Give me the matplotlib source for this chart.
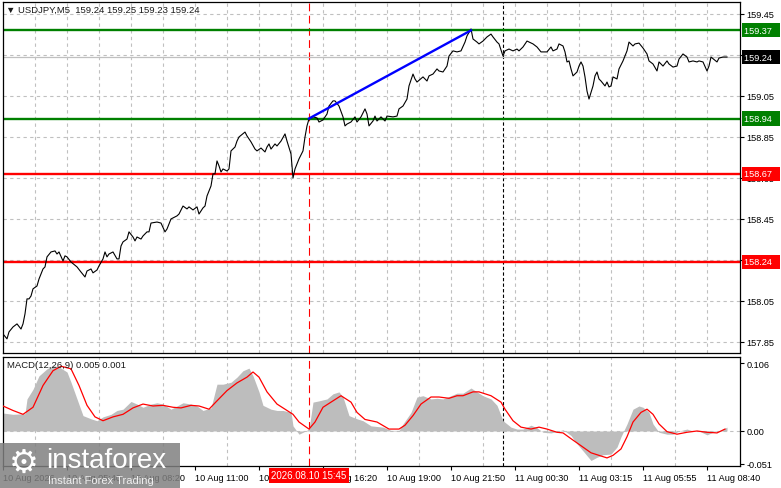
import matplotlib
matplotlib.use("Agg")
import matplotlib.pyplot as plt
import matplotlib.transforms as mtransforms
from matplotlib.patches import Rectangle
import numpy as np

plt.rcParams["font.family"] = ["Liberation Sans", "DejaVu Sans"]

# ---- USDJPY M5 close line (bar index counted from left edge of chart) ----
bars = [0, 2, 3, 5, 7, 9, 10, 11, 12, 13, 14, 15, 17, 18, 19, 20, 21, 22, 24, 26,
        27, 28, 30, 31, 32, 34, 37, 39, 41, 42, 44, 45, 47, 48, 50, 51, 52, 53, 55, 57,
        58, 59, 60, 62, 63, 65, 66, 67, 69, 70, 72, 73, 74, 77, 79, 81, 82, 84, 86, 87,
        88, 90, 92, 93, 95, 97, 98, 100, 101, 102, 104, 105, 106, 107, 108, 109, 110, 112, 113, 114,
        116, 117, 118, 121, 122, 124, 126, 127, 129, 131, 132, 133, 134, 136, 137, 139, 141, 142, 144, 145,
        146, 148, 150, 151, 152, 153, 155, 157, 158, 160, 162, 163, 165, 166, 168, 170, 171, 172, 174, 176,
        177, 179, 181, 182, 183, 185, 186, 187, 189, 191, 192, 195, 197, 198, 200, 202, 203, 205, 206, 207,
        210, 212, 213, 215, 217, 218, 220, 222, 223, 225, 227, 229, 231, 232, 234, 235, 237, 238, 240, 242,
        244, 245, 247, 248, 250, 251, 253, 255, 257, 258, 260, 262, 265, 267, 269, 272, 274, 275, 277, 278,
        280, 281, 282, 283, 284, 285, 287, 288, 289, 290, 291, 292, 293, 295, 296, 297, 298, 299, 301, 302,
        303, 304, 305, 307, 308, 310, 312, 313, 315, 316, 318, 320, 322, 323, 325, 327, 328, 330, 332, 333,
        335, 337, 338, 340, 342, 343, 345, 347, 348, 350, 352, 353, 354, 357, 358, 360, 362]
close = [157.889, 157.865, 157.899, 157.923, 157.938, 157.913, 157.938, 157.987, 158.060, 158.060,
         158.074, 158.109, 158.123, 158.157, 158.182, 158.206, 158.216, 158.265, 158.289, 158.294,
         158.279, 158.289, 158.245, 158.270, 158.265, 158.240, 158.216, 158.191, 158.167, 158.196,
         158.206, 158.187, 158.201, 158.221, 158.255, 158.289, 158.265, 158.279, 158.289, 158.255,
         158.255, 158.318, 158.338, 158.352, 158.387, 158.362, 158.343, 158.362, 158.352, 158.367,
         158.387, 158.387, 158.430, 158.435, 158.430, 158.387, 158.401, 158.450, 158.460, 158.465,
         158.474, 158.513, 158.499, 158.509, 158.494, 158.509, 158.474, 158.504, 158.513, 158.562,
         158.611, 158.670, 158.670, 158.733, 158.709, 158.679, 158.694, 158.684, 158.694, 158.782,
         158.801, 158.830, 158.850, 158.874, 158.855, 158.826, 158.791, 158.782, 158.796, 158.777,
         158.801, 158.816, 158.791, 158.816, 158.806, 158.830, 158.865, 158.830, 158.767, 158.650,
         158.694, 158.743, 158.782, 158.850, 158.904, 158.938, 158.948, 158.943, 158.923, 158.933,
         158.962, 159.001, 159.026, 159.026, 159.001, 158.948, 158.904, 158.913, 158.923, 158.948,
         158.923, 158.948, 158.987, 158.962, 158.904, 158.928, 158.952, 158.928, 158.948, 158.928,
         158.952, 158.948, 158.952, 158.987, 159.001, 159.035, 159.099, 159.157, 159.133, 159.118,
         159.143, 159.123, 159.148, 159.157, 159.182, 159.172, 159.167, 159.196, 159.245, 159.270,
         159.265, 159.270, 159.313, 159.343, 159.377, 159.328, 159.313, 159.304, 159.318, 159.338,
         159.352, 159.338, 159.313, 159.304, 159.245, 159.270, 159.279, 159.270, 159.279, 159.270,
         159.289, 159.318, 159.304, 159.289, 159.265, 159.265, 159.289, 159.270, 159.279, 159.304,
         159.294, 159.265, 159.216, 159.221, 159.182, 159.148, 159.167, 159.196, 159.216, 159.196,
         159.143, 159.074, 159.035, 159.099, 159.148, 159.167, 159.133, 159.123, 159.099, 159.118,
         159.094, 159.099, 159.143, 159.133, 159.182, 159.221, 159.270, 159.313, 159.294, 159.304,
         159.308, 159.284, 159.255, 159.221, 159.206, 159.172, 159.216, 159.196, 159.221, 159.206,
         159.191, 159.196, 159.230, 159.255, 159.240, 159.216, 159.221, 159.216, 159.221, 159.216,
         159.172, 159.196, 159.240, 159.216, 159.235, 159.240, 159.240]

# ---- MACD(12,26,9): histogram (grey) and signal (red) ----
hist_bars = [0, 5, 11, 12, 15, 18, 22, 25, 28, 32, 34, 37, 40, 44, 47, 50, 54, 57, 60, 64,
             67, 70, 74, 77, 80, 84, 87, 90, 94, 97, 100, 104, 107, 110, 114, 117, 120, 123, 125, 128,
             130, 134, 137, 140, 144, 145, 148, 150, 153, 155, 158, 162, 165, 168, 170, 173, 177, 180, 184, 187,
             190, 194, 198, 200, 204, 207, 210, 214, 217, 220, 224, 227, 230, 234, 237, 240, 244, 247, 250, 254,
             257, 260, 264, 267, 270, 274, 277, 280, 284, 287, 290, 294, 297, 300, 304, 307, 309, 312, 315, 318,
             320, 323, 325, 328, 332, 335, 338, 342, 345, 348, 352, 355, 358, 362]
hist = [0.028, 0.026, 0.027, 0.050, 0.065, 0.086, 0.097, 0.102, 0.100, 0.092,
        0.076, 0.050, 0.024, 0.019, 0.016, 0.022, 0.026, 0.032, 0.034, 0.046,
        0.042, 0.037, 0.042, 0.044, 0.042, 0.034, 0.039, 0.044, 0.042, 0.039,
        0.032, 0.036, 0.073, 0.073, 0.076, 0.084, 0.094, 0.098, 0.086, 0.061,
        0.040, 0.034, 0.032, 0.032, 0.029, 0.008, -0.005, -0.002, 0.003, 0.045,
        0.047, 0.050, 0.058, 0.061, 0.053, 0.024, 0.019, 0.016, 0.008, 0.007,
        0.006, 0.001, 0.001, 0.011, 0.029, 0.053, 0.055, 0.050, 0.051, 0.050,
        0.055, 0.059, 0.059, 0.067, 0.061, 0.055, 0.050, 0.040, 0.016, 0.006,
        0.003, 0.003, 0.009, 0.005, -0.002, -0.003, -0.001, 0.002, -0.007, -0.020,
        -0.031, -0.046, -0.041, -0.037, -0.036, -0.025, -0.009, 0.011, 0.034, 0.039,
        0.037, 0.029, 0.011, -0.002, -0.005, -0.005, 0.000, 0.003, 0.000, 0.000,
        -0.006, -0.002, 0.000, 0.006]
sig_bars = [0, 5, 10, 15, 20, 25, 29, 34, 38, 42, 46, 50, 55, 60, 65, 70, 75, 80, 85, 89,
            94, 98, 103, 107, 112, 117, 122, 125, 128, 132, 137, 142, 145, 148, 153, 156, 160, 165, 169, 174,
            177, 181, 187, 193, 198, 201, 205, 209, 214, 218, 223, 227, 230, 235, 238, 244, 249, 251, 255, 259,
            264, 268, 272, 277, 280, 284, 289, 294, 298, 302, 305, 309, 312, 315, 319, 322, 325, 328, 332, 337,
            342, 347, 352, 357, 361]
signal = [0.039, 0.032, 0.026, 0.037, 0.071, 0.094, 0.101, 0.097, 0.071, 0.040,
          0.022, 0.016, 0.022, 0.026, 0.036, 0.042, 0.039, 0.040, 0.037, 0.036,
          0.040, 0.039, 0.034, 0.047, 0.063, 0.075, 0.084, 0.092, 0.084, 0.061,
          0.042, 0.032, 0.026, 0.014, 0.003, 0.014, 0.037, 0.047, 0.055, 0.045,
          0.029, 0.018, 0.014, 0.003, 0.003, 0.009, 0.024, 0.042, 0.053, 0.053,
          0.051, 0.055, 0.055, 0.061, 0.061, 0.055, 0.045, 0.034, 0.016, 0.006,
          0.003, 0.006, 0.003, -0.002, -0.003, -0.012, -0.023, -0.034, -0.038, -0.042,
          -0.038, -0.028, -0.009, 0.014, 0.029, 0.034, 0.026, 0.011, -0.001, -0.005,
          -0.002, 0.000, -0.002, -0.003, 0.003]

# ---- levels / annotations ----
resist_levels = [159.37, 158.94]
support_levels = [158.67, 158.24]
last_price = 159.24
trend_bars = [153, 234]
trend_prices = [158.94, 159.37]
event_bar = 153
event_label = "2026.08.10 15:45"
session_bar = 250

price_ticks = [159.45, 159.25, 159.05, 158.85, 158.65, 158.45, 158.25, 158.05, 157.85]
hidden_ticks = [159.25, 158.25]     # fully covered by the level boxes on the chart
macd_ticks = [0.106, 0.0, -0.051]
macd_tick_labels = ["0.106", "0.00", "-0.051"]
time_ticks = [0, 32, 64, 96, 128, 160, 192, 224, 256, 288, 320, 352]
time_labels = ["10 Aug 2026", "10 Aug 05:40", "10 Aug 08:20", "10 Aug 11:00", "10 Aug 13:40",
               "10 Aug 16:20", "10 Aug 19:00", "10 Aug 21:50", "11 Aug 00:30", "11 Aug 03:15",
               "11 Aug 05:55", "11 Aug 08:40"]

GREEN, RED, GRID = "#008000", "#ff0000", "#c0c0c0"
FS = 6.6
W, H = 781, 489

def rect(x0, y0, x1, y1):
    return [x0 / W, 1 - y1 / H, (x1 - x0) / W, (y1 - y0) / H]

fig = plt.figure(figsize=(W / 100, H / 100), dpi=100)
ax = fig.add_axes(rect(3, 3, 740, 354))
axm = fig.add_axes(rect(3, 358, 740, 467))

for a in (ax, axm):
    a.set_xlim(0, 368.5)
    a.set_xticks(np.arange(16, 368, 16), minor=True)
    a.grid(True, which="minor", axis="x", color=GRID, ls=(0, (3, 3)), lw=0.8)
    a.yaxis.tick_right()
    a.tick_params(axis="y", direction="out", length=3, pad=1.5, labelsize=FS, width=0.8)
    a.tick_params(axis="x", which="minor", length=0)
    for s in a.spines.values():
        s.set_linewidth(0.9)
    a.axvline(event_bar, color=RED, ls=(0, (7, 4)), lw=0.8, zorder=1)
    a.axvline(session_bar, color="black", ls=(0, (3, 2)), lw=0.8, zorder=1)

# ---- price panel ----
ax.set_ylim(157.796, 159.5085)
ax.set_yticks(price_ticks)
ax.set_yticklabels(["" if t in hidden_ticks else f"{t:.2f}" for t in price_ticks])
ax.set_xticks([])
ax.grid(True, axis="y", color=GRID, ls=(0, (3, 3)), lw=0.8)
ax.axhline(last_price, color=GRID, lw=0.9)
for lv in resist_levels:
    ax.axhline(lv, color=GREEN, lw=1.7, zorder=2)
for lv in support_levels:
    ax.axhline(lv, color=RED, lw=1.7, zorder=2)
ax.plot(bars, close, color="black", lw=0.8, zorder=3)
ax.plot(trend_bars, trend_prices, color="#0000ff", lw=1.7, zorder=4)

ytr = ax.get_yaxis_transform()
for lv, c in [(resist_levels[0], GREEN), (resist_levels[1], GREEN), (support_levels[0], RED),
              (support_levels[1], RED), (last_price, "black")]:
    ax.text(1.006, lv, f"{lv:.2f}  ", transform=ytr, color="white", fontsize=FS, va="center", ha="left",
            bbox=dict(boxstyle="square,pad=0.28", fc=c, ec="none"), clip_on=False, zorder=6)

fig.text(6 / W, 1 - 10 / H, "\u25bc USDJPY,M5  159.24 159.25 159.23 159.24", fontsize=6.8,
         va="center", ha="left", color="#1a1a1a")

# ---- MACD panel ----
axm.set_ylim(-0.0546, 0.1154)
axm.fill_between(hist_bars, hist, 0, color="#bdbdbd", lw=0, zorder=2)
axm.axhline(0, color=GRID, ls=(0, (3, 3)), lw=0.8, zorder=1)
axm.plot(sig_bars, signal, color=RED, lw=0.9, zorder=3)
axm.set_yticks(macd_ticks)
axm.set_yticklabels(macd_tick_labels)
axm.set_xticks(time_ticks)
axm.set_xticklabels(time_labels, ha="left")
axm.tick_params(axis="x", which="major", direction="out", length=3, pad=2, labelsize=FS, width=0.8)
fig.text(7 / W, 1 - 366 / H, "MACD(12,26,9) 0.005 0.001", fontsize=6.8, va="center", ha="left",
         color="#1a1a1a")

btr = mtransforms.blended_transform_factory(axm.transData, axm.transAxes)
axm.text(event_bar, -0.085, event_label, transform=btr, color="white", fontsize=FS + 0.4,
         ha="center", va="center", bbox=dict(boxstyle="square,pad=0.25", fc=RED, ec="none"),
         clip_on=False, zorder=8)

# ---- watermark ----
fig.patches.append(Rectangle((0, 0), 180 / W, 45 / H, transform=fig.transFigure,
                             fc="#808080", ec="none", alpha=0.85, zorder=10))
fig.text(24 / W, 1 - 463 / H, "\u2699", family=["DejaVu Sans"], fontsize=24, color="white",
         ha="center", va="center", zorder=11)
fig.text(46 / W, 1 - 461 / H, "instaforex", fontsize=20, color="white", ha="left", va="center", zorder=11)
fig.text(48 / W, 1 - 481 / H, "Instant Forex Trading", fontsize=8, color="#eeeeee", ha="left",
         va="center", zorder=11)

fig.savefig("out.png", dpi=100)
